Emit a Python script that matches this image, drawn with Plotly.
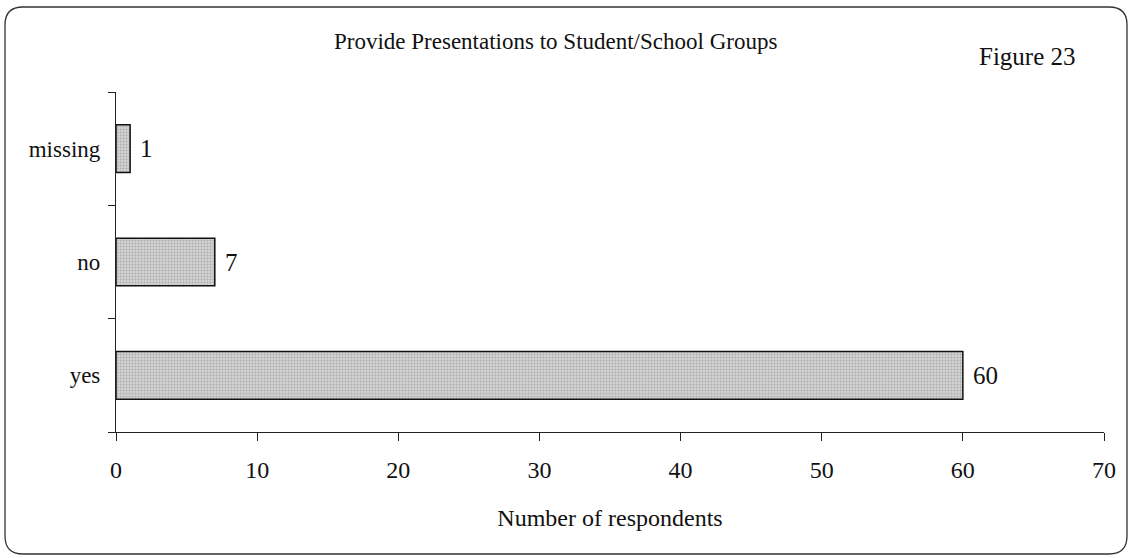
import plotly.graph_objects as go

categories = ["yes", "no", "missing"]
counts = [60, 7, 1]
x_ticks = [0, 10, 20, 30, 40, 50, 60, 70]

title_text = "Provide Presentations to Student/School Groups"
figure_label = "Figure 23"
x_title = "Number of respondents"

FONT = "Liberation Serif, Times New Roman, serif"

fig = go.Figure()
fig.add_trace(go.Bar(
    y=categories,
    x=counts,
    orientation="h",
    width=0.42,
    marker=dict(
        color="#cfcfcf",
        line=dict(color="#111111", width=1.5),
        pattern=dict(shape=".", fgcolor="#858585", bgcolor="#d2d2d2", size=3, solidity=0.35),
    ),
    showlegend=False,
    hoverinfo="x+y",
))

L, R, T, B = 116, 1104, 92, 432
W, H = R - L, B - T

def px_x(p):
    return (p - L) / W

def px_y(p):
    return (B - p) / H

# rounded border around the whole chart
x0, x1, y0, y1 = 5, 1127, 7, 554
r = 18
def P(x, y):
    return f"{px_x(x):.5f},{px_y(y):.5f}"
path = (
    f"M {P(x0 + r, y0)} L {P(x1 - r, y0)} Q {P(x1, y0)} {P(x1, y0 + r)} "
    f"L {P(x1, y1 - r)} Q {P(x1, y1)} {P(x1 - r, y1)} "
    f"L {P(x0 + r, y1)} Q {P(x0, y1)} {P(x0, y1 - r)} "
    f"L {P(x0, y0 + r)} Q {P(x0, y0)} {P(x0 + r, y0)} Z"
)

# value labels placed at the bar ends via the data axes
value_labels = [
    dict(x=v, y=c, xref="x", yref="y", text=str(v), showarrow=False,
         xanchor="left", yanchor="middle", xshift=8,
         font=dict(family=FONT, size=25, color="#111111"))
    for c, v in zip(categories, counts)
]

fig.update_layout(
    width=1130,
    height=558,
    margin=dict(l=L, r=1130 - R, t=T, b=558 - B),
    paper_bgcolor="white",
    plot_bgcolor="white",
    font=dict(family=FONT, color="#111111"),
    shapes=[dict(type="path", path=path, xref="paper", yref="paper",
                 line=dict(color="#333333", width=1.3), fillcolor="rgba(0,0,0,0)", layer="below")],
    annotations=[
        dict(text=title_text, xref="paper", yref="paper", x=px_x(555), y=px_y(41),
             xanchor="center", yanchor="middle", showarrow=False,
             font=dict(family=FONT, size=23, color="#111111")),
        dict(text=figure_label, xref="paper", yref="paper", x=px_x(1027), y=px_y(57),
             xanchor="center", yanchor="middle", showarrow=False,
             font=dict(family=FONT, size=25, color="#111111")),
    ] + value_labels,
    xaxis=dict(
        range=[0, 70],
        tickvals=x_ticks,
        ticktext=[str(v) for v in x_ticks],
        ticks="outside",
        ticklen=8,
        tickcolor="#222222",
        showline=True,
        linecolor="#222222",
        linewidth=1.2,
        showgrid=False,
        zeroline=False,
        ticklabelstandoff=8,
        tickfont=dict(family=FONT, size=24, color="#111111"),
        title=dict(text=x_title, font=dict(family=FONT, size=24, color="#111111"), standoff=27),
    ),
    yaxis=dict(
        type="category",
        categoryorder="array",
        categoryarray=categories,
        range=[-0.5, 2.5],
        tickson="boundaries",
        ticks="outside",
        ticklen=7,
        tickcolor="#222222",
        showline=True,
        linecolor="#222222",
        linewidth=1.2,
        showgrid=False,
        zeroline=False,
        ticklabelstandoff=10,
        tickfont=dict(family=FONT, size=23, color="#111111"),
    ),
)

fig.write_html(
    "out.html",
    config={"displayModeBar": False},
    post_script="document.body.style.margin='0';document.body.style.overflow='hidden';",
)
